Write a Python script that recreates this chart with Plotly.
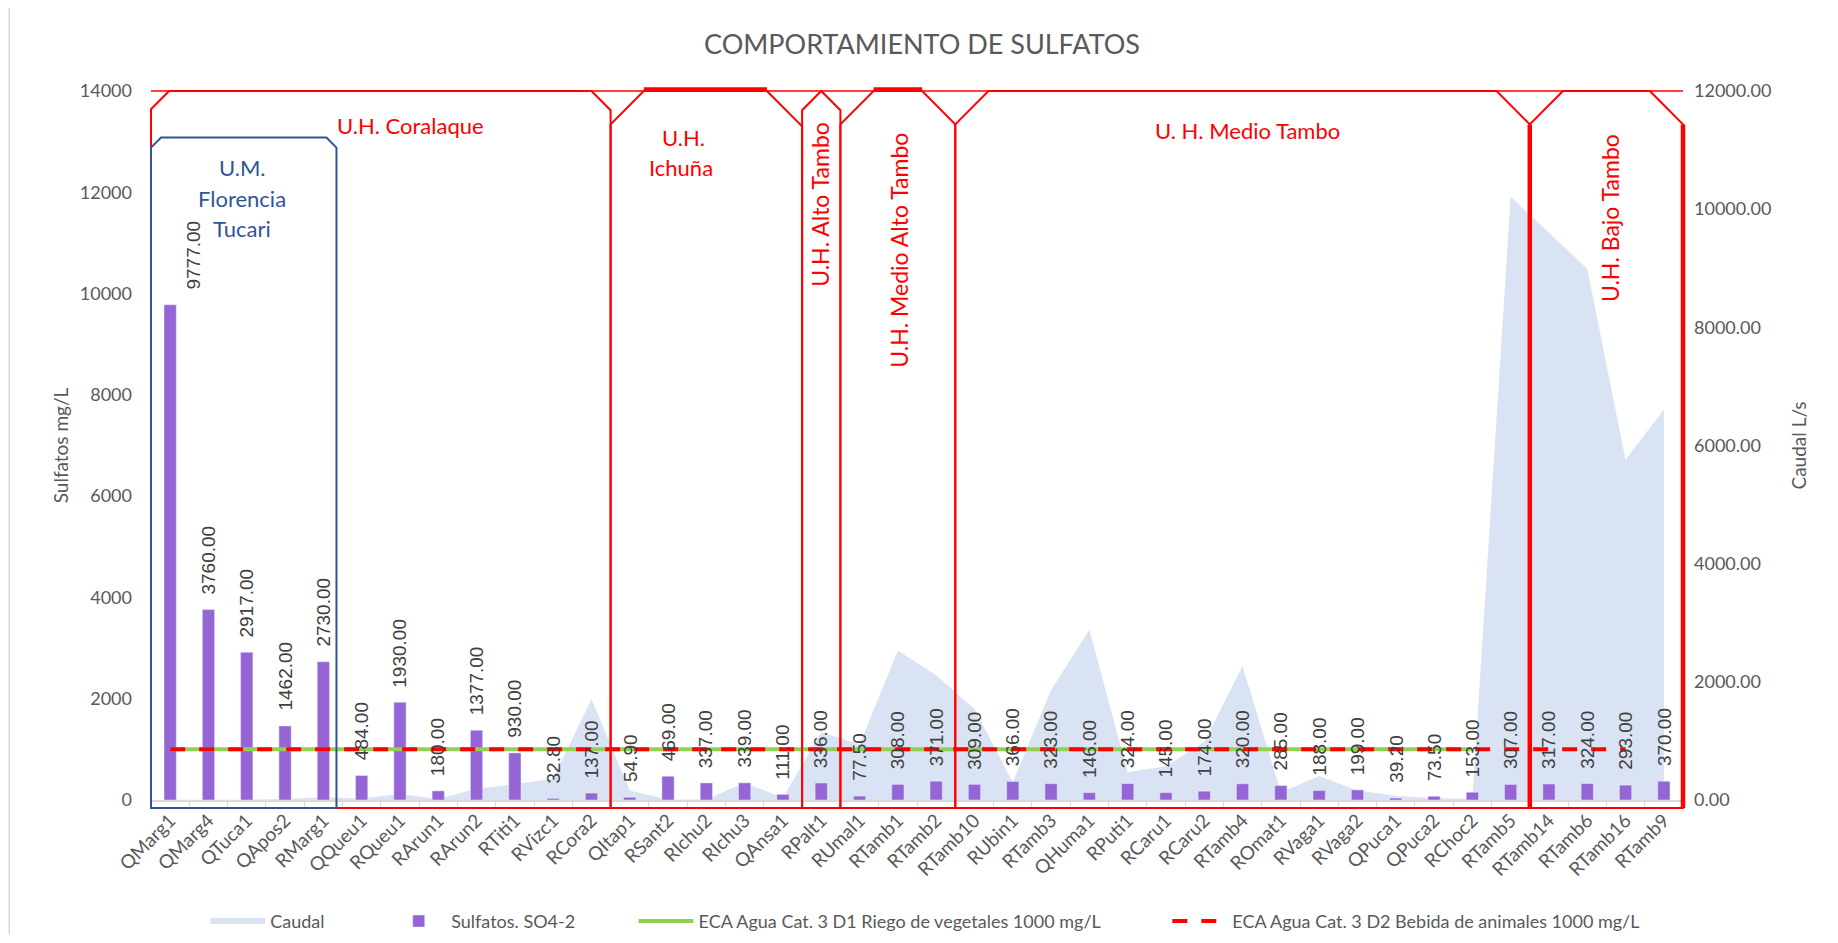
import plotly.graph_objects as go

# ---------------- DATA ----------------
categories = ["QMarg1", "QMarg4", "QTuca1", "QApos2", "RMarg1", "QQueu1", "RQueu1", "RArun1",
              "RArun2", "RTiti1", "RVizc1", "RCora2", "QItap1", "RSant2", "RIchu2", "RIchu3",
              "QAnsa1", "RPalt1", "RUmal1", "RTamb1", "RTamb2", "RTamb10", "RUbin1", "RTamb3",
              "QHuma1", "RPuti1", "RCaru1", "RCaru2", "RTamb4", "ROmat1", "RVaga1", "RVaga2",
              "QPuca1", "QPuca2", "RChoc2", "RTamb5", "RTamb14", "RTamb6", "RTamb16", "RTamb9"]

sulfatos = [9777.00, 3760.00, 2917.00, 1462.00, 2730.00, 484.00, 1930.00, 180.00,
            1377.00, 930.00, 32.80, 137.00, 54.90, 469.00, 337.00, 339.00,
            111.00, 336.00, 77.50, 308.00, 371.00, 309.00, 366.00, 323.00,
            146.00, 324.00, 145.00, 174.00, 320.00, 285.00, 188.00, 199.00,
            39.20, 73.50, 153.00, 307.00, 317.00, 324.00, 293.00, 370.00]

caudal = [5, 5, 5, 15, 45, 25, 100, 15,
          190, 270, 360, 1710, 160, 10, 10, 290,
          40, 1150, 940, 2530, 2110, 1540, 300, 1860,
          2880, 470, 570, 980, 2270, 125, 405, 160,
          70, 30, 20, 10210, 9600, 8990, 5760, 6610]

eca_d1 = [1000, 1000, 1000, 1000, 1000, 1000, 1000, 1000, 1000, 1000,
          1000, 1000, 1000, 1000, 1000, 1000, 1000, 1000, 1000, 1000,
          1000, 1000, 1000, 1000, 1000, 1000, 1000, 1000, 1000, 1000,
          1000, 1000, 1000, 1000, 1000, None, None, None, None, None]

eca_d2 = [1000, 1000, 1000, 1000, 1000, 1000, 1000, 1000, 1000, 1000,
          1000, 1000, 1000, 1000, 1000, 1000, 1000, 1000, 1000, 1000,
          1000, 1000, 1000, 1000, 1000, 1000, 1000, 1000, 1000, 1000,
          1000, 1000, 1000, 1000, 1000, 1000, 1000, 1000, 1000, None]

left_ticks = [0, 2000, 4000, 6000, 8000, 10000, 12000, 14000]
right_ticks = [0, 2000, 4000, 6000, 8000, 10000, 12000]

# regions: (first station, last station)
regions_red = [("QMarg1", "RCora2"), ("QItap1", "QAnsa1"), ("RPalt1", "RPalt1"),
               ("RUmal1", "RTamb2"), ("RTamb10", "RTamb5"), ("RTamb14", "RTamb9")]
region_blue = ("QMarg1", "RMarg1")

# ---------------- LAYOUT GEOMETRY (page pixel coords, page has 8px body margin) ----------------
OFF = 8
W, H = 1838 - 2 * OFF, 943 - 2 * OFF
PL, PR, PT, PB = 151, 1675, 91, 792          # plot area in page coords
PW, PH = PR - PL, PB - PT
N = len(categories)
YMAX_L = 14000
YMAX_R = 12000

def px(xp):
    return (xp - PL) / PW

def py(yp):
    return (PB - yp) / PH

def bnd(k, off_px=0.0):
    return k / N + off_px / PW

RED = "#FF0000"
BLUE = "#2F5597"
GRAY = "#595959"
FONT = "Lato"

fig = go.Figure()

fig.add_trace(go.Scatter(
    x=categories, y=caudal, name="Caudal", mode="none", fill="tozeroy",
    fillcolor="#DAE3F3", yaxis="y", legend="legend", showlegend=True, hoverinfo="x+y"))

fig.add_trace(go.Bar(
    x=categories, y=sulfatos, name="Sulfatos. SO4-2", marker=dict(color="#9565D5"),
    yaxis="y2", legend="legend2", showlegend=True))

fig.add_trace(go.Scatter(
    x=categories, y=eca_d1, name="ECA Agua Cat. 3 D1 Riego de vegetales 1000 mg/L",
    mode="lines", line=dict(color="#92D050", width=4), yaxis="y2", legend="legend3",
    showlegend=True))

fig.add_trace(go.Scatter(
    x=categories, y=eca_d2, name="ECA Agua Cat. 3 D2 Bebida de animales 1000 mg/L",
    mode="lines", line=dict(color=RED, width=4, dash="15px,14px"), yaxis="y2",
    legend="legend4", showlegend=True))

annotations = []
label_xshift = {"QMarg1": 23}
for c, v in zip(categories, sulfatos):
    annotations.append(dict(
        x=c, y=v, xref="x", yref="y2", text=f"{v:.2f}", showarrow=False,
        textangle=-90, xanchor="center", yanchor="bottom", yshift=13,
        xshift=label_xshift.get(c, 0),
        font=dict(family="Liberation Sans", size=19, color="#404040")))

def region_label(text, xp, yp, color=RED, angle=0, size=22):
    annotations.append(dict(
        x=px(xp), y=py(yp), xref="paper", yref="paper", text=text, showarrow=False,
        textangle=angle, xanchor="center", yanchor="middle",
        font=dict(family=FONT, size=size, color=color)))

region_label("U.H. Coralaque", 409, 125)
region_label("U.M.", 242, 167, BLUE)
region_label("Florencia", 242, 197, BLUE)
region_label("Tucari", 242, 227, BLUE)
region_label("U.H.", 681, 137)
region_label("Ichuña", 678, 167)
region_label("U.H. Alto Tambo", 817, 203, angle=-90, size=23)
region_label("U.H. Medio Alto Tambo", 895, 248, angle=-90, size=23)
region_label("U. H. Medio Tambo", 1242, 130)
region_label("U.H. Bajo Tambo", 1603, 217, angle=-90, size=23)

# ---------------- SHAPES ----------------
shapes = []
idx = {c: i for i, c in enumerate(categories)}
top = py(PT)
bot = py(800)

def snip_box(x0, x1, ytop, sl, sr, color, width):
    sx0, sy0 = sl / PW, sl / PH
    sx1, sy1 = sr / PW, sr / PH
    path = (f"M{x0},{bot} L{x0},{ytop - sy0} L{x0 + sx0},{ytop} "
            f"L{x1 - sx1},{ytop} L{x1},{ytop - sy1} L{x1},{bot} Z")
    shapes.append(dict(type="path", xref="paper", yref="paper", path=path,
                       line=dict(color=color, width=width), layer="above"))

snips = [(18, 19), (33, 35), (19, 19), (33, 33), (33, 33), (33, 33)]
thick_top = {1, 3}
for k, ((a, b), (sl, sr)) in enumerate(zip(regions_red, snips)):
    x0 = bnd(idx[a])
    x1 = bnd(idx[b] + 1)
    if a == b:
        half = (x1 - x0) / 2 * PW
        sl = sr = half
    snip_box(x0, x1, top, sl, sr, RED, 2)
    if k in thick_top:
        shapes.append(dict(type="line", xref="paper", yref="paper",
                           x0=x0 + sl / PW, x1=x1 - sr / PW, y0=top + 2 / PH, y1=top + 2 / PH,
                           line=dict(color=RED, width=3.5)))

# thick vertical edges of the lower basin box
bx0 = bnd(idx[regions_red[-1][0]])
bx1 = bnd(idx[regions_red[-1][1]] + 1)
for xv in (bx0, bx1):
    shapes.append(dict(type="line", xref="paper", yref="paper", x0=xv, x1=xv,
                       y0=bot, y1=top - 33 / PH, line=dict(color=RED, width=4.5)))

# thin top line
shapes.append(dict(type="line", xref="paper", yref="paper", x0=0, x1=1, y0=top, y1=top,
                   line=dict(color=RED, width=1.5)))

# blue box
snip_box(bnd(idx[region_blue[0]]), bnd(idx[region_blue[1]] + 1, -6), py(137), 10, 10, BLUE, 2)

# outer chart border
shapes.append(dict(type="rect", xref="paper", yref="paper", x0=px(10), x1=px(1834),
                   y0=py(938), y1=py(6), line=dict(color="#D9D9D9", width=1.5), layer="below"))

leg_common = dict(orientation="h", xanchor="left", yanchor="middle", y=py(912),
                  bgcolor="rgba(0,0,0,0)", itemwidth=55,
                  font=dict(family=FONT, size=18, color=GRAY))

fig.update_layout(
    width=W, height=H,
    margin=dict(l=PL - OFF, r=(1838 - OFF) - PR - OFF, t=PT - OFF, b=(943 - OFF) - PB - OFF,
                autoexpand=False),
    paper_bgcolor="white", plot_bgcolor="white",
    showlegend=True,
    title=dict(text="COMPORTAMIENTO DE SULFATOS", x=(922 - OFF) / W, xref="container",
               y=1 - (45 - OFF) / H, yref="container", xanchor="center", yanchor="middle",
               font=dict(family=FONT, size=27, color=GRAY)),
    bargap=0.68,
    xaxis=dict(type="category", categoryorder="array", categoryarray=categories,
               range=[-0.5, N - 0.5], tickangle=-45, showgrid=False, showline=True,
               linecolor="#D9D9D9", linewidth=2, ticks="outside", tickson="boundaries",
               ticklen=6, tickcolor="#D9D9D9", tickfont=dict(family=FONT, size=19, color=GRAY)),
    yaxis=dict(side="right", range=[0, YMAX_R], tickvals=right_ticks, tickformat=".2f",
               showgrid=False, zeroline=False, showline=False, ticks="",
               ticklabelstandoff=10,
               title=dict(text="Caudal L/s", standoff=22, font=dict(family=FONT, size=19, color=GRAY)),
               tickfont=dict(family=FONT, size=18, color=GRAY)),
    yaxis2=dict(side="left", overlaying="y", range=[0, YMAX_L], tickvals=left_ticks,
                tickformat="d",
                showgrid=False, zeroline=False, showline=False, ticks="",
                ticklabelstandoff=18,
                title=dict(text="Sulfatos mg/L", standoff=6, font=dict(family=FONT, size=19, color=GRAY)),
                tickfont=dict(family=FONT, size=18, color=GRAY)),
    legend=dict(x=px(205), **leg_common),
    legend2=dict(x=px(385), **leg_common),
    legend3=dict(x=px(631), **leg_common),
    legend4=dict(x=px(1162), **leg_common),
    annotations=annotations,
    shapes=shapes,
)

fig.write_html("out.html")
